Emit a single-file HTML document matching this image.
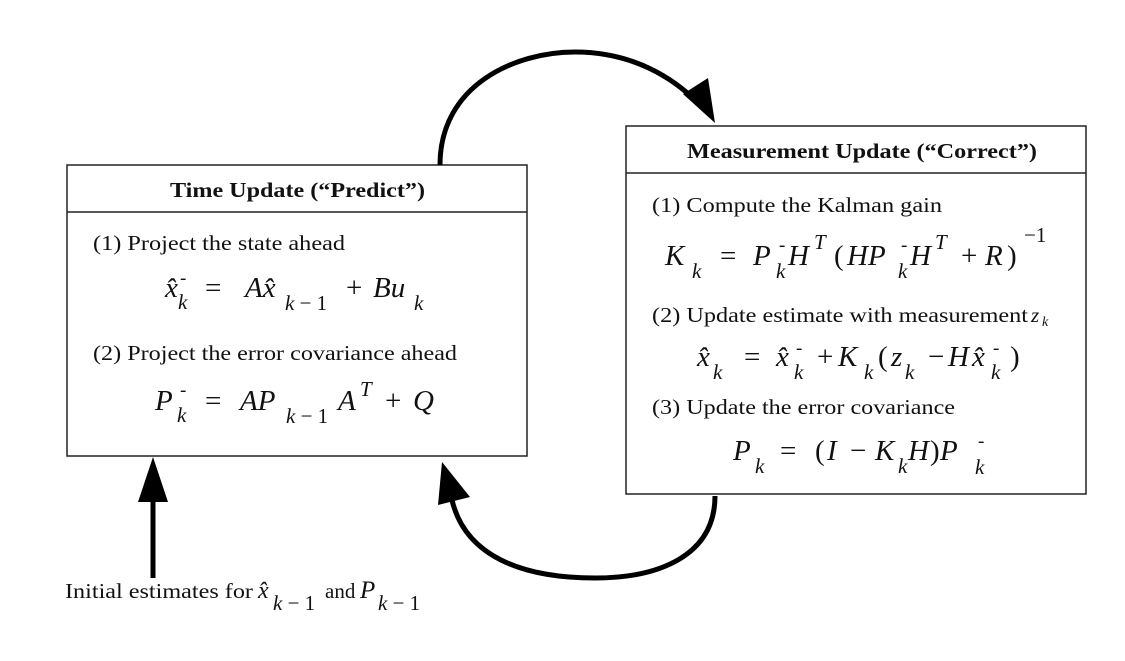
<!DOCTYPE html>
<html><head><meta charset="utf-8"><style>
html,body{margin:0;padding:0;background:#fff;}
svg text{font-family:"Liberation Serif",serif;fill:#111;}
.h{font-weight:bold;font-size:21px;}
.t{font-size:21px;}
.m{font-size:29px;font-style:italic;}
.r{font-style:normal;}
.s{font-size:21px;font-style:italic;}
.d{font-size:19px;}
</style></head><body>
<svg width="1125" height="656" viewBox="0 0 1125 656" xmlns="http://www.w3.org/2000/svg">
<!-- boxes -->
<rect x="67" y="165" width="460" height="291" fill="none" stroke="#222" stroke-width="1.5"/>
<line x1="67" y1="212" x2="527" y2="212" stroke="#222" stroke-width="1.5"/>
<rect x="626" y="126" width="460" height="368" fill="none" stroke="#222" stroke-width="1.5"/>
<line x1="626" y1="173" x2="1086" y2="173" stroke="#222" stroke-width="1.5"/>
<!-- arrows -->
<path d="M440,165 C440,85 515,52 575,52 C635,52 675,80 697,102" fill="none" stroke="#000" stroke-width="5"/>
<polygon points="715,123 683,94 708,78" fill="#000"/>
<path d="M715,496 C715,555 660,578 595,578 C520,578 465,555 452,500" fill="none" stroke="#000" stroke-width="5"/>
<polygon points="442,462 438,505 470,497" fill="#000"/>
<line x1="153" y1="578" x2="153" y2="495" stroke="#000" stroke-width="5"/>
<polygon points="153,457 138,502 168,502" fill="#000"/>
<!-- left box text -->
<text class="h" x="170" y="197" textLength="255" lengthAdjust="spacingAndGlyphs">Time Update (“Predict”)</text>
<text class="t" x="93" y="250" textLength="252" lengthAdjust="spacingAndGlyphs">(1) Project the state ahead</text>
<text class="m" x="165" y="297">x̂</text><text class="s" x="178" y="309">k</text><text class="d" x="180" y="284">-</text>
<text class="m r" x="205" y="297">=</text>
<text class="m" x="245" y="297">Ax̂</text><text class="s" x="285" y="310">k<tspan class="r"> − 1</tspan></text>
<text class="m r" x="346" y="297">+</text>
<text class="m" x="373" y="297">Bu</text><text class="s" x="414" y="310">k</text>
<text class="t" x="93" y="360" textLength="364" lengthAdjust="spacingAndGlyphs">(2) Project the error covariance ahead</text>
<text class="m" x="155" y="410">P</text><text class="s" x="177" y="422">k</text><text class="d" x="180" y="396">-</text>
<text class="m r" x="205" y="410">=</text>
<text class="m" x="240" y="410">AP</text><text class="s" x="286" y="423">k<tspan class="r"> − 1</tspan></text>
<text class="m" x="338" y="410">A</text><text class="s" x="360" y="396">T</text>
<text class="m r" x="385" y="410">+</text>
<text class="m" x="413" y="410">Q</text>
<!-- right box text -->
<text class="h" x="687" y="158" textLength="350" lengthAdjust="spacingAndGlyphs">Measurement Update (“Correct”)</text>
<text class="t" x="652" y="212" textLength="290" lengthAdjust="spacingAndGlyphs">(1) Compute the Kalman gain</text>
<text class="m" x="665" y="265">K</text><text class="s" x="692" y="278">k</text>
<text class="m r" x="720" y="265">=</text>
<text class="m" x="753" y="265">P</text><text class="d" x="779" y="251">-</text><text class="s" x="776" y="278">k</text>
<text class="m" x="788" y="265">H</text><text class="s" x="814" y="249">T</text>
<text class="m r" x="834" y="265">(</text>
<text class="m" x="847" y="265">HP</text><text class="d" x="901" y="251">-</text><text class="s" x="898" y="278">k</text>
<text class="m" x="910" y="265">H</text><text class="s" x="935" y="249">T</text>
<text class="m r" x="961" y="265">+</text>
<text class="m" x="985" y="265">R</text>
<text class="m r" x="1007" y="265">)</text>
<text class="t" x="1024" y="242">−1</text>
<text class="t" x="652" y="322" textLength="376" lengthAdjust="spacingAndGlyphs">(2) Update estimate with measurement</text>
<text class="t" x="1031" y="322" font-style="italic">z</text><text x="1042" y="326" font-style="italic" font-size="14">k</text>
<text class="m" x="697" y="366">x̂</text><text class="s" x="713" y="379">k</text>
<text class="m r" x="744" y="366">=</text>
<text class="m" x="776" y="366">x̂</text><text class="s" x="794" y="379">k</text><text class="d" x="796" y="354">-</text>
<text class="m r" x="817" y="366">+</text>
<text class="m" x="838" y="366">K</text><text class="s" x="864" y="379">k</text>
<text class="m r" x="878" y="366">(</text>
<text class="m" x="891" y="366">z</text><text class="s" x="905" y="379">k</text>
<text class="m r" x="928" y="366">−</text>
<text class="m" x="948" y="366">H</text>
<text class="m" x="972" y="366">x̂</text><text class="s" x="991" y="379">k</text><text class="d" x="993" y="354">-</text>
<text class="m r" x="1010" y="366">)</text>
<text class="t" x="652" y="414" textLength="303" lengthAdjust="spacingAndGlyphs">(3) Update the error covariance</text>
<text class="m" x="733" y="460">P</text><text class="s" x="755" y="473">k</text>
<text class="m r" x="780" y="460">=</text>
<text class="m r" x="815" y="460">(</text>
<text class="m" x="827" y="460">I</text>
<text class="m r" x="850" y="460">−</text>
<text class="m" x="875" y="460">K</text><text class="s" x="898" y="473">k</text>
<text class="m" x="908" y="460">H</text>
<text class="m r" x="930" y="460">)</text>
<text class="m" x="940" y="460">P</text><text class="d" x="978" y="447">-</text><text class="s" x="975" y="474">k</text>
<!-- bottom label -->
<text class="t" x="65" y="598" textLength="188" lengthAdjust="spacingAndGlyphs">Initial estimates for</text>
<text x="258" y="598" font-style="italic" font-size="24">x̂</text>
<text class="s" x="273" y="610">k<tspan class="r"> − 1</tspan></text>
<text class="t" x="325" y="598">and</text>
<text x="360" y="598" font-style="italic" font-size="25">P</text>
<text class="s" x="378" y="610">k<tspan class="r"> − 1</tspan></text>
</svg>
</body></html>
